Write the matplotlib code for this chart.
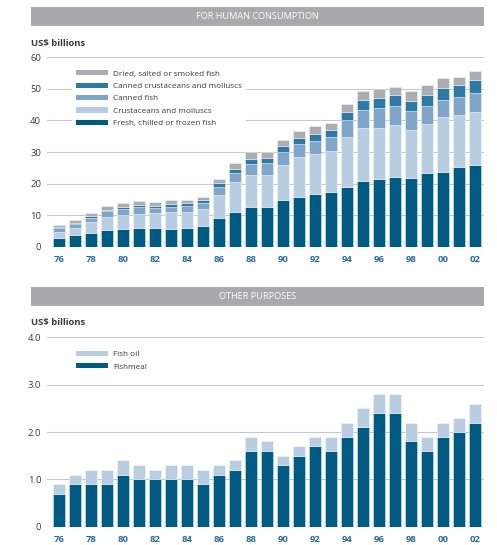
import matplotlib
matplotlib.use("Agg")
import matplotlib.pyplot as plt
from matplotlib.patches import Rectangle, Patch
import numpy as np

plt.rcParams['font.family'] = ['Open Sans', 'DejaVu Sans']

years = ['76', '77', '78', '79', '80', '81', '82', '83', '84', '85', '86', '87', '88', '89',
         '90', '91', '92', '93', '94', '95', '96', '97', '98', '99', '00', '01', '02']

# For human consumption (US$ billions)
fresh = [2.7, 3.6, 4.4, 5.4, 5.7, 6.0, 5.8, 5.7, 5.8, 6.6, 9.0, 11.0, 12.6, 12.6,
         14.9, 15.9, 16.8, 17.3, 19.0, 20.8, 21.6, 22.1, 21.7, 23.5, 23.8, 25.1, 26.0]
crust = [2.1, 2.4, 3.4, 4.1, 4.2, 4.4, 4.8, 5.2, 5.3, 5.5, 7.4, 9.4, 10.1, 10.0,
         11.1, 12.4, 12.6, 13.0, 15.9, 16.9, 16.1, 16.3, 15.3, 15.5, 17.2, 16.5, 16.6]
canned_fish = [1.2, 1.3, 1.4, 1.8, 2.1, 2.2, 1.7, 1.8, 1.8, 1.9, 2.6, 2.8, 3.5, 3.8,
               4.0, 4.2, 4.2, 4.3, 5.2, 5.7, 6.2, 6.2, 6.1, 5.7, 5.6, 5.8, 6.2]
canned_crust = [0.3, 0.3, 0.5, 0.4, 0.5, 0.5, 0.6, 0.8, 1.0, 0.7, 1.1, 1.4, 1.7, 1.6,
                1.8, 2.0, 2.2, 2.5, 2.6, 3.2, 3.1, 3.3, 3.1, 3.4, 3.8, 3.7, 3.9]
dried = [0.6, 0.9, 0.9, 1.1, 1.4, 1.5, 1.4, 1.2, 0.9, 1.2, 1.4, 1.9, 2.1, 2.0,
         2.1, 2.2, 2.4, 2.2, 2.6, 2.7, 3.1, 2.8, 3.0, 3.0, 2.9, 2.8, 3.1]

# Other purposes (US$ billions)
fishmeal = [0.7, 0.9, 0.9, 0.9, 1.1, 1.0, 1.0, 1.0, 1.0, 0.9, 1.1, 1.2, 1.6, 1.6,
            1.3, 1.5, 1.7, 1.6, 1.9, 2.1, 2.4, 2.4, 1.8, 1.6, 1.9, 2.0, 2.2]
fish_oil = [0.2, 0.2, 0.3, 0.3, 0.3, 0.3, 0.2, 0.3, 0.3, 0.3, 0.2, 0.2, 0.3, 0.2,
            0.2, 0.2, 0.2, 0.3, 0.3, 0.4, 0.4, 0.4, 0.4, 0.3, 0.3, 0.3, 0.4]

top_series = [
    ('Fresh, chilled or frozen fish', fresh, '#005b84'),
    ('Crustaceans and molluscs', crust, '#b9cde0'),
    ('Canned fish', canned_fish, '#7fa6c8'),
    ('Canned crustaceans and molluscs', canned_crust, '#2f7aa5'),
    ('Dried, salted or smoked fish', dried, '#acadb0'),
]
bottom_series = [
    ('Fishmeal', fishmeal, '#005b84'),
    ('Fish oil', fish_oil, '#b9cde0'),
]

W, H = 497, 545
fig = plt.figure(figsize=(W / 100, H / 100), dpi=100)

def fx(px):
    return px / W

def fy(py):
    return 1 - py / H

grid_col = '#c9c9c9'
year_col = '#2a6e98'
text_col = '#3a3a3a'
x = np.arange(len(years))

def setup_axes(ax, ymax, yticks, yticklabels):
    ax.set_xlim(-0.78, len(years) - 0.42)
    ax.set_ylim(0, ymax)
    for s in ax.spines.values():
        s.set_visible(False)
    ax.set_yticks(yticks)
    ax.set_yticklabels(yticklabels)
    ax.yaxis.grid(True, color=grid_col, linewidth=0.8)
    ax.set_axisbelow(True)
    ax.tick_params(axis='y', length=0, pad=4, labelsize=6.8, labelcolor=text_col)
    ax.set_xticks(x[::2])
    ax.set_xticklabels(years[::2])
    ax.tick_params(axis='x', length=0, pad=6, labelsize=6.8, labelcolor=year_col)
    for t in ax.get_xticklabels():
        t.set_fontweight('bold')

def header(y0, y1, label, ylab_y):
    fig.add_artist(Rectangle((fx(31), fy(y1)), fx(484) - fx(31), fy(y0) - fy(y1),
                             transform=fig.transFigure, facecolor='#a8a9ab',
                             edgecolor='none'))
    fig.text(fx(257.5), fy((y0 + y1) / 2), label, color='white', fontsize=6.6,
             ha='center', va='center')
    fig.text(fx(31), fy(ylab_y), 'US$ billions', color=text_col, fontsize=6.8,
             fontweight='bold', ha='left', va='center')

def draw_stack(ax, series):
    bottom = np.zeros(len(years))
    handles = []
    for name, vals, col in series:
        ax.bar(x, vals, width=0.75, bottom=bottom, color=col,
               edgecolor=(1, 1, 1, 0.55), linewidth=0.5, zorder=2)
        bottom = bottom + np.array(vals)
        handles.append(Patch(facecolor=col, edgecolor='none', label=name))
    return handles[::-1]

def make_legend(ax, handles, top_px):
    leg = ax.legend(handles=handles, loc='upper left', bbox_to_anchor=(fx(72), fy(top_px)),
                    bbox_transform=fig.transFigure, frameon=True, framealpha=1,
                    facecolor='white', edgecolor='none', fancybox=False,
                    fontsize=5.9, handlelength=4.0, handleheight=0.6,
                    handletextpad=0.6, labelspacing=0.6, borderpad=0.45,
                    borderaxespad=0)
    for t in leg.get_texts():
        t.set_color(text_col)
    return leg

# ---- Top chart
ax1 = fig.add_axes([fx(46.7), fy(246.7), fx(484) - fx(46.7), fy(57.3) - fy(246.7)])
setup_axes(ax1, 60, [0, 10, 20, 30, 40, 50, 60], ['0', '10', '20', '30', '40', '50', '60'])
h1 = draw_stack(ax1, top_series)
header(7.3, 26, 'FOR HUMAN CONSUMPTION', 43.3)
make_legend(ax1, h1, 66.5)

# ---- Bottom chart
ax2 = fig.add_axes([fx(46.7), fy(526.7), fx(484) - fx(46.7), fy(337.3) - fy(526.7)])
setup_axes(ax2, 4.0, [0, 1, 2, 3, 4], ['0', '1.0', '2.0', '3.0', '4.0'])
h2 = draw_stack(ax2, bottom_series)
header(287.3, 306, 'OTHER PURPOSES', 322.7)
make_legend(ax2, h2, 347)

fig.savefig('out.png', dpi=100)
